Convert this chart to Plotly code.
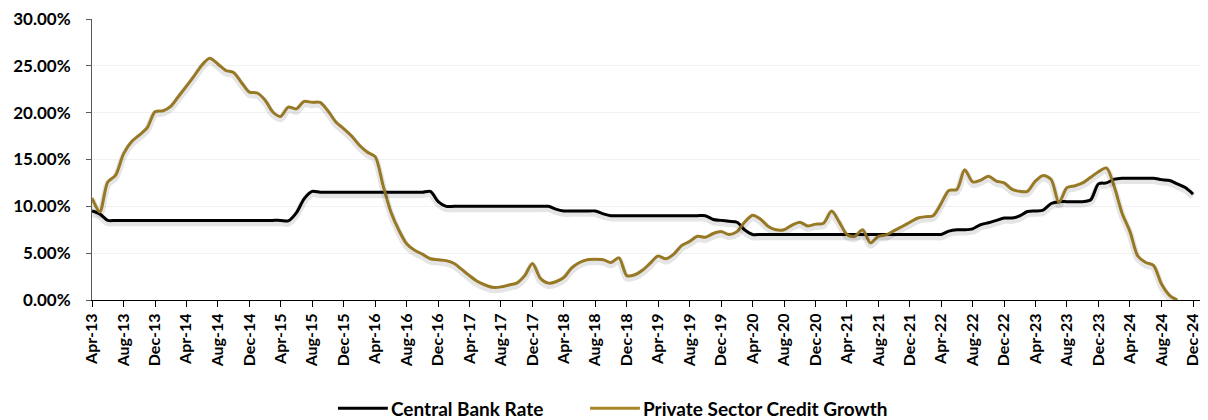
import pandas as pd
import plotly.graph_objects as go

# Monthly observations, Apr-2013 .. Dec-2024
months = pd.date_range("2013-04-01", "2024-12-01", freq="MS")

central_bank_rate = [
    9.5, 9.2, 8.5, 8.5, 8.5, 8.5, 8.5, 8.5, 8.5, 8.5, 8.5, 8.5,      # Apr-13 .. Mar-14
    8.5, 8.5, 8.5, 8.5, 8.5, 8.5, 8.5, 8.5, 8.5, 8.5, 8.5, 8.5,      # Apr-14 .. Mar-15
    8.5, 8.45, 9.3, 10.8, 11.6, 11.5, 11.5, 11.5, 11.5, 11.5, 11.5, 11.5,  # Apr-15 .. Mar-16
    11.5, 11.5, 11.5, 11.5, 11.5, 11.5, 11.5, 11.6, 10.5, 10.0, 10.0, 10.0,  # Apr-16 .. Mar-17
    10.0, 10.0, 10.0, 10.0, 10.0, 10.0, 10.0, 10.0, 10.0, 10.0, 10.0, 9.7,   # Apr-17 .. Mar-18
    9.5, 9.5, 9.5, 9.5, 9.5, 9.2, 9.0, 9.0, 9.0, 9.0, 9.0, 9.0,      # Apr-18 .. Mar-19
    9.0, 9.0, 9.0, 9.0, 9.0, 9.0, 9.0, 8.6, 8.5, 8.4, 8.3, 7.5,      # Apr-19 .. Mar-20
    7.0, 7.0, 7.0, 7.0, 7.0, 7.0, 7.0, 7.0, 7.0, 7.0, 7.0, 7.0,      # Apr-20 .. Mar-21
    7.0, 7.0, 7.0, 7.0, 7.0, 7.0, 7.0, 7.0, 7.0, 7.0, 7.0, 7.0,      # Apr-21 .. Mar-22
    7.0, 7.35, 7.5, 7.5, 7.6, 8.05, 8.25, 8.5, 8.75, 8.75, 9.0, 9.45,  # Apr-22 .. Mar-23
    9.5, 9.6, 10.3, 10.5, 10.5, 10.5, 10.5, 10.7, 12.4, 12.5, 12.9, 13.0,  # Apr-23 .. Mar-24
    13.0, 13.0, 13.0, 13.0, 12.85, 12.75, 12.4, 12.0, 11.3,          # Apr-24 .. Dec-24
]

private_sector_credit_growth = [
    10.9, 9.4, 12.6, 13.3, 15.6, 16.9, 17.6, 18.4, 20.1, 20.2, 20.7, 21.7,   # Apr-13 .. Mar-14
    22.8, 23.9, 25.1, 25.8, 25.2, 24.5, 24.3, 23.2, 22.2, 22.1, 21.3, 20.1,  # Apr-14 .. Mar-15
    19.6, 20.6, 20.4, 21.2, 21.1, 21.1, 20.2, 19.0, 18.3, 17.5, 16.5, 15.8,  # Apr-15 .. Mar-16
    15.3, 12.3, 9.4, 7.5, 6.0, 5.3, 4.9, 4.4, 4.3, 4.2, 3.9, 3.3,            # Apr-16 .. Mar-17
    2.6, 2.0, 1.6, 1.35, 1.4, 1.6, 1.8, 2.6, 3.9, 2.3, 1.8, 1.95,            # Apr-17 .. Mar-18
    2.4, 3.4, 4.0, 4.3, 4.35, 4.3, 4.0, 4.5, 2.6, 2.7, 3.2, 3.9,             # Apr-18 .. Mar-19
    4.7, 4.4, 4.9, 5.8, 6.25, 6.8, 6.7, 7.1, 7.3, 7.0, 7.3, 8.3,             # Apr-19 .. Mar-20
    9.05, 8.65, 7.85, 7.5, 7.5, 8.0, 8.3, 7.9, 8.1, 8.2, 9.5, 8.4,           # Apr-20 .. Mar-21
    7.0, 6.8, 7.5, 6.1, 6.8, 6.95, 7.4, 7.85, 8.3, 8.75, 8.9, 9.0,           # Apr-21 .. Mar-22
    10.3, 11.7, 11.8, 13.9, 12.6, 12.8, 13.2, 12.7, 12.5, 11.8, 11.6, 11.6,  # Apr-22 .. Mar-23
    12.7, 13.3, 12.85, 10.4, 12.0, 12.2, 12.5, 13.1, 13.7, 14.1, 12.0, 9.3,  # Apr-23 .. Mar-24
    7.3, 4.7, 4.0, 3.7, 1.7, 0.5, 0.0, None, None,                           # Apr-24 .. Dec-24
]

series = [
    ("Central Bank Rate", central_bank_rate, "#000000"),
    ("Private Sector Credit Growth", private_sector_credit_growth, "#A8862A"),
]

FONT = "Lato"

fig = go.Figure()

# soft drop shadow: same series on an overlaid axis nudged slightly downward
for name, vals, color in series:
    fig.add_trace(go.Scatter(
        x=months, y=vals, mode="lines", yaxis="y2", hoverinfo="skip",
        line=dict(color="rgba(0,0,0,0.10)", width=7, shape="spline", smoothing=0.8),
        showlegend=False,
    ))

for name, vals, color in series:
    fig.add_trace(go.Scatter(
        x=months, y=vals, mode="lines", name=name,
        line=dict(color=color, width=3, shape="spline", smoothing=0.8),
        showlegend=False,
    ))

# legend drawn below the axis labels
legend_items = [(0.222, series[0]), (0.4495, series[1])]
for x0, (name, vals, color) in legend_items:
    fig.add_shape(type="line", xref="paper", yref="paper",
                  x0=x0, x1=x0 + 0.045, y0=-0.385, y1=-0.385,
                  line=dict(color=color, width=3))
    fig.add_annotation(xref="paper", yref="paper", x=x0 + 0.046, y=-0.385,
                       text=f"<b>{name}</b>", showarrow=False,
                       xanchor="left", yanchor="middle",
                       font=dict(family=FONT, size=19, color="#000000"))

fig.update_layout(
    width=1208, height=420,
    margin=dict(l=92, r=8, t=19, b=120),
    paper_bgcolor="white", plot_bgcolor="white",
    font=dict(family=FONT, size=16, color="#000000"),
    xaxis=dict(
        type="date",
        range=["2013-04-01", "2024-12-28"],
        tick0="2013-04-01", dtick="M4", tickformat="<b>%b-%y</b>",
        tickangle=-90,
        tickfont=dict(family=FONT, size=16, color="#000000"),
        showgrid=False, zeroline=False,
        showline=True, linecolor="#000000", linewidth=1,
        ticks="outside", ticklen=6, tickcolor="#000000",
    ),
    yaxis=dict(
        range=[0, 30], dtick=5, tick0=0,
        tickformat=".2f", tickprefix="<b>", ticksuffix="%</b>",
        tickfont=dict(family=FONT, size=17, color="#000000"),
        showgrid=True, gridcolor="#F2F2F2", gridwidth=1,
        zeroline=False,
        showline=True, linecolor="#595959", linewidth=1,
        ticks="outside", ticklen=5, tickcolor="#595959",
        ticklabelstandoff=12,
    ),
    yaxis2=dict(
        range=[0.25, 30.25], overlaying="y", visible=False,
    ),
)

fig.write_html("out.html")
